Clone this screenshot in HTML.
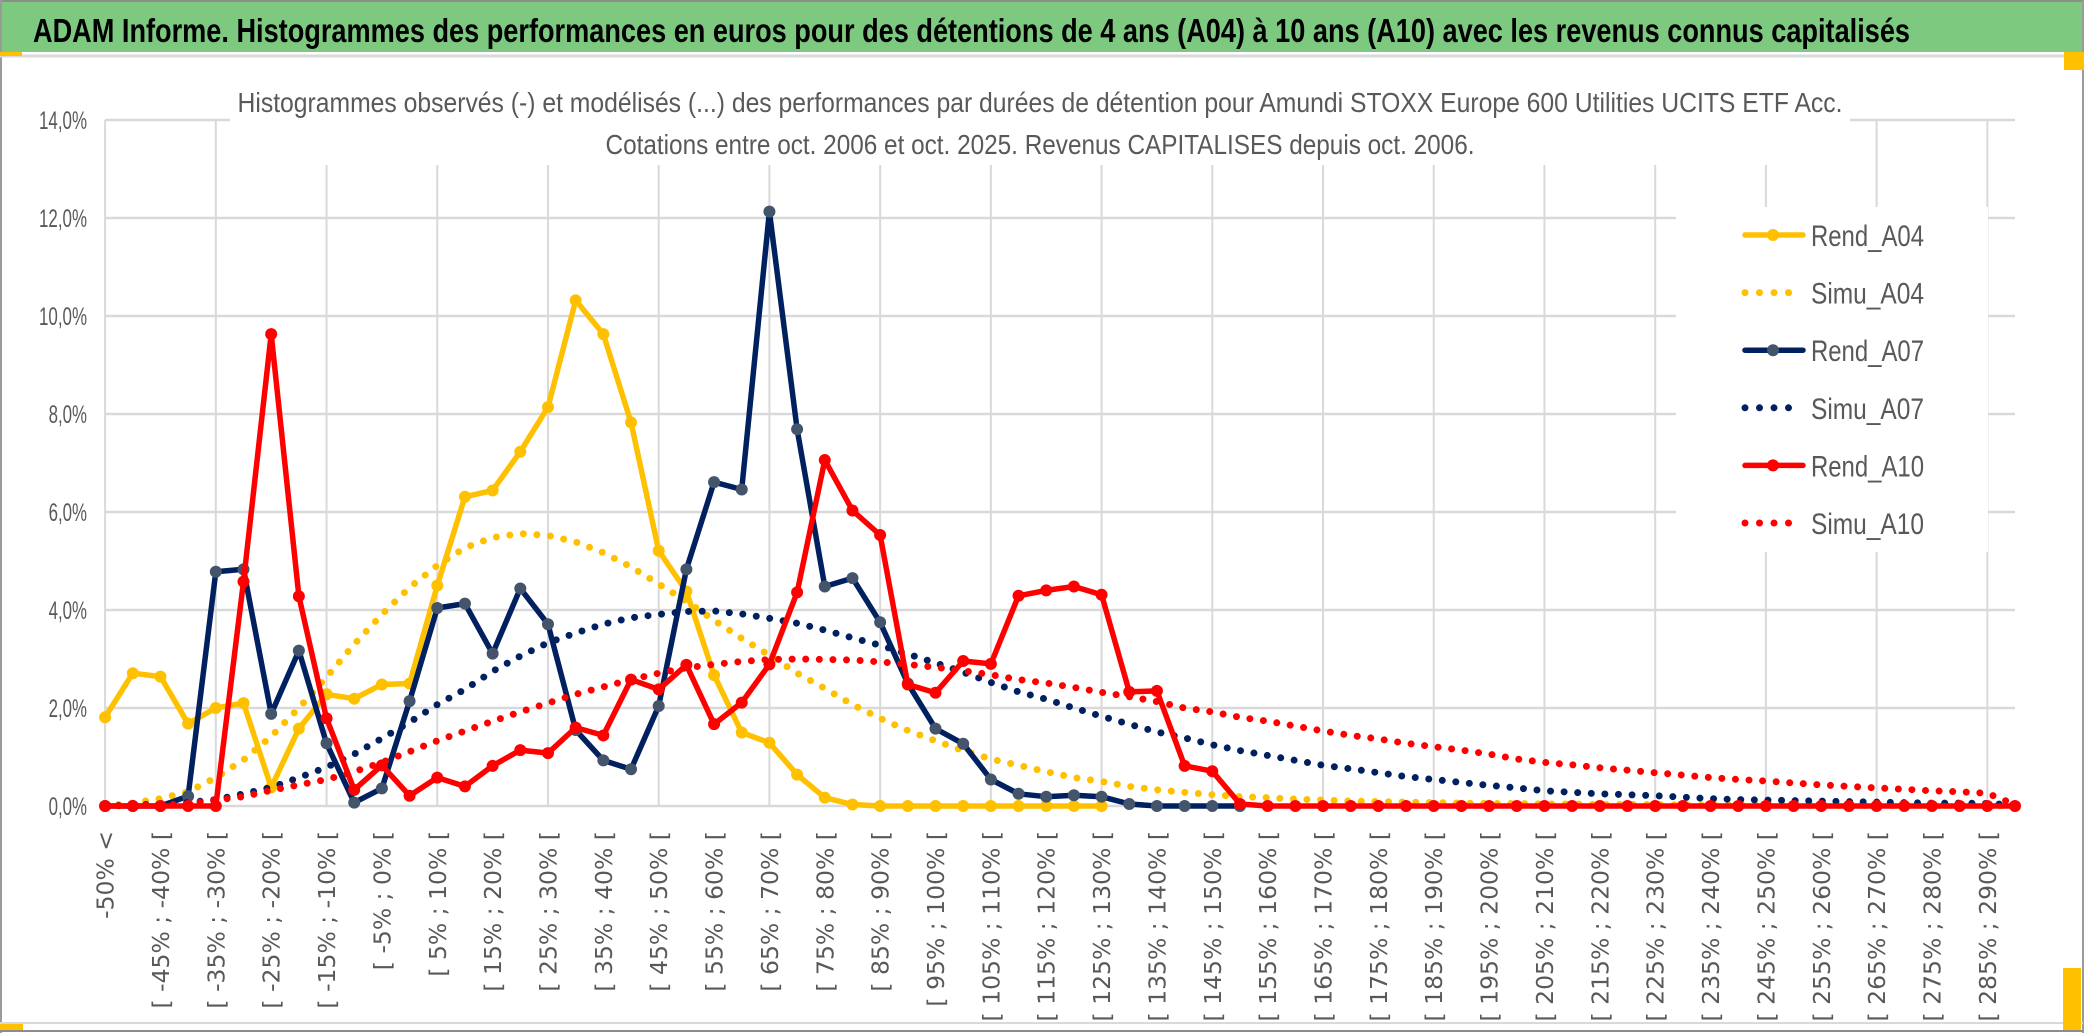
<!DOCTYPE html>
<html><head><meta charset="utf-8"><style>
html,body{margin:0;padding:0;background:#fff;}
svg{display:block;}
</style></head><body>
<svg id="chart" width="2086" height="1033" viewBox="0 0 2086 1033" xmlns="http://www.w3.org/2000/svg">
<rect x="0" y="0" width="2086" height="1033" fill="#fff"/>
<rect x="0" y="2" width="2083" height="50" fill="#7dc97f"/>
<line x1="0" y1="1" x2="2083" y2="1" stroke="#8c8c8c" stroke-width="2"/>
<line x1="1" y1="0" x2="1" y2="1033" stroke="#9a9a9a" stroke-width="2"/>
<line x1="2083" y1="0" x2="2083" y2="1033" stroke="#9a9a9a" stroke-width="2"/>
<line x1="0" y1="56" x2="2083" y2="56" stroke="#d9d9d9" stroke-width="3"/>
<line x1="0" y1="1023" x2="2083" y2="1023" stroke="#d9d9d9" stroke-width="2"/>
<line x1="0" y1="1031" x2="2083" y2="1031" stroke="#8c8c8c" stroke-width="2"/>
<rect x="0" y="52" width="22" height="4" fill="#ffc000"/>
<rect x="2064" y="52" width="20" height="18" fill="#ffc000"/>
<rect x="2063" y="968" width="18" height="62" fill="#ffc000"/>
<rect x="0" y="1024" width="23" height="6" fill="#ffc000"/>
<text x="33" y="42" font-family="'Liberation Sans Narrow','Liberation Sans',sans-serif" font-weight="bold" font-size="33" fill="#000" textLength="1877" lengthAdjust="spacingAndGlyphs">ADAM Informe. Histogrammes des performances en euros pour des détentions de 4 ans (A04) à 10 ans (A10) avec les revenus connus capitalisés</text>
<g id="grid"></g>
<rect x="230" y="110" width="1620" height="55" fill="#fff"/>
<rect x="1676" y="207" width="312" height="345" fill="#fff"/>
<text x="1040" y="112" text-anchor="middle" font-family="'Liberation Sans Narrow','Liberation Sans',sans-serif" font-size="28" fill="#595959" textLength="1605" lengthAdjust="spacingAndGlyphs">Histogrammes observés (-) et modélisés (...) des performances par durées de détention pour Amundi STOXX Europe 600 Utilities UCITS ETF Acc.</text>
<text x="1040" y="154" text-anchor="middle" font-family="'Liberation Sans Narrow','Liberation Sans',sans-serif" font-size="28" fill="#595959" textLength="869" lengthAdjust="spacingAndGlyphs">Cotations entre oct. 2006 et oct. 2025. Revenus CAPITALISES depuis oct. 2006.</text>
<g id="axes"></g>
<g id="series"></g>
<g id="legend"></g>
</svg>
<script>
const categories = ["-50% <","[ -50% ; -45% [","[ -45% ; -40% [","[ -40% ; -35% [","[ -35% ; -30% [","[ -30% ; -25% [","[ -25% ; -20% [","[ -20% ; -15% [","[ -15% ; -10% [","[ -10% ; -5% [",
"[ -5% ; 0% [","[ 0% ; 5% [","[ 5% ; 10% [","[ 10% ; 15% [","[ 15% ; 20% [","[ 20% ; 25% [","[ 25% ; 30% [","[ 30% ; 35% [","[ 35% ; 40% [","[ 40% ; 45% [",
"[ 45% ; 50% [","[ 50% ; 55% [","[ 55% ; 60% [","[ 60% ; 65% [","[ 65% ; 70% [","[ 70% ; 75% [","[ 75% ; 80% [","[ 80% ; 85% [","[ 85% ; 90% [","[ 90% ; 95% [",
"[ 95% ; 100% [","[ 100% ; 105% [","[ 105% ; 110% [","[ 110% ; 115% [","[ 115% ; 120% [","[ 120% ; 125% [","[ 125% ; 130% [","[ 130% ; 135% [","[ 135% ; 140% [","[ 140% ; 145% [",
"[ 145% ; 150% [","[ 150% ; 155% [","[ 155% ; 160% [","[ 160% ; 165% [","[ 165% ; 170% [","[ 170% ; 175% [","[ 175% ; 180% [","[ 180% ; 185% [","[ 185% ; 190% [","[ 190% ; 195% [",
"[ 195% ; 200% [","[ 200% ; 205% [","[ 205% ; 210% [","[ 210% ; 215% [","[ 215% ; 220% [","[ 220% ; 225% [","[ 225% ; 230% [","[ 230% ; 235% [","[ 235% ; 240% [","[ 240% ; 245% [",
"[ 245% ; 250% [","[ 250% ; 255% [","[ 255% ; 260% [","[ 260% ; 265% [","[ 265% ; 270% [","[ 270% ; 275% [","[ 275% ; 280% [","[ 280% ; 285% [","[ 285% ; 290% [","[ 290% ; 295% ["];
const yTicks = [0,2,4,6,8,10,12,14];
const yTickLabels = ["0,0%","2,0%","4,0%","6,0%","8,0%","10,0%","12,0%","14,0%"];
const rendA04 = [1.81,2.71,2.64,1.68,2.0,2.1,0.38,1.58,2.28,2.19, 2.48,2.5,4.5,6.31,6.44,7.23,8.14,10.32,9.63,7.83, 5.21,4.38,2.67,1.5,1.29,0.64,0.17,0.03,0,0, 0,0,0,0,0,0,0];
const simuA04 = [0,0.06,0.15,0.29,0.58,0.94,1.42,2.0,2.63,3.3, 3.91,4.46,4.91,5.27,5.48,5.56,5.52,5.39,5.17,4.88, 4.53,4.18,3.79,3.42,3.08,2.71,2.4,2.07,1.79,1.54, 1.33,1.13,0.96,0.83,0.7,0.58,0.5,0.4,0.33,0.28, 0.23,0.19,0.17,0.14,0.12,0.1,0.09,0.08,0.07,0.06, 0.05,0.05,0.04,0.04,0.03,0.03,0.03,0.02,0.02,0.02, 0.02,0.01,0.01,0.01,0.01,0.01,0.01,0.01,0.01,0];
const rendA07 = [0,0,0,0.2,4.78,4.83,1.88,3.17,1.28,0.07, 0.36,2.14,4.04,4.13,3.11,4.44,3.71,1.55,0.93,0.75, 2.04,4.83,6.61,6.46,12.13,7.69,4.48,4.65,3.75,2.5, 1.58,1.27,0.54,0.25,0.19,0.22,0.19,0.04,0,0, 0,0];
const simuA07 = [0,0.02,0.04,0.07,0.13,0.25,0.38,0.58,0.79,1.06, 1.38,1.71,2.07,2.38,2.75,3.06,3.33,3.53,3.71,3.84, 3.91,3.97,3.98,3.92,3.83,3.73,3.59,3.43,3.28,3.1, 2.92,2.73,2.52,2.33,2.18,2.0,1.83,1.67,1.51,1.39, 1.25,1.13,1.03,0.93,0.83,0.76,0.68,0.6,0.54,0.48, 0.42,0.37,0.31,0.28,0.25,0.23,0.21,0.18,0.15,0.13, 0.12,0.11,0.1,0.09,0.08,0.07,0.06,0.06,0.05,0.02];
const rendA10 = [0,0,0,0,0,4.58,9.63,4.28,1.79,0.33, 0.83,0.21,0.58,0.4,0.82,1.14,1.08,1.6,1.44,2.58, 2.38,2.88,1.67,2.11,2.89,4.36,7.06,6.03,5.53,2.48, 2.31,2.96,2.9,4.29,4.4,4.48,4.31,2.33,2.35,0.82, 0.71,0.04,0,0,0,0,0,0,0,0, 0,0,0,0,0,0,0,0,0,0, 0,0,0,0,0,0,0,0,0,0];
const simuA10 = [0,0.01,0.02,0.04,0.12,0.19,0.32,0.43,0.54,0.7, 0.89,1.11,1.33,1.53,1.73,1.92,2.1,2.28,2.43,2.58, 2.71,2.82,2.89,2.95,2.99,3.0,2.99,2.98,2.94,2.89, 2.83,2.76,2.68,2.58,2.51,2.42,2.32,2.23,2.13,2.0, 1.92,1.81,1.73,1.63,1.53,1.44,1.37,1.28,1.21,1.14, 1.06,0.96,0.89,0.84,0.78,0.73,0.68,0.63,0.58,0.54, 0.51,0.47,0.43,0.4,0.37,0.34,0.31,0.29,0.26,0.03];

const NS = "http://www.w3.org/2000/svg";
const X0 = 105.1, DX = 27.68, Y0 = 806, PPU = 49;
function xScale(i){ return X0 + DX * i; }
function yScale(v){ return Y0 - PPU * v; }
function mk(tag, attrs, parent){ const e = document.createElementNS(NS, tag); for (const k in attrs) e.setAttribute(k, attrs[k]); parent.appendChild(e); return e; }

const grid = document.getElementById('grid');
const plotRight = xScale(categories.length - 1);
yTicks.forEach(function(t){
  const l = mk('line', {x1: X0, x2: plotRight, y1: yScale(t), y2: yScale(t), stroke: '#d9d9d9', 'stroke-width': 2.5}, grid);
  
  
});
for (let i = 0; i < categories.length; i += 4) {
  const l = mk('line', {x1: xScale(i), x2: xScale(i), y1: yScale(14), y2: yScale(0), stroke: '#d9d9d9', 'stroke-width': 2}, grid);
  
  
}

const axes = document.getElementById('axes');
yTicks.forEach(function(t, k){
  const tx = mk('text', {x: 87, y: yScale(t) + 9, 'text-anchor': 'end', 'font-family': "'Liberation Sans Narrow','Liberation Sans',sans-serif", 'font-size': 25, fill: '#595959', textLength: yTickLabels[k].length * 9.6, lengthAdjust: 'spacingAndGlyphs'}, axes);
  
  
  tx.textContent = yTickLabels[k];
});
categories.forEach(function(c, i){
  if (i % 2 !== 0) return;
  const x = xScale(i) + 8.5, y = 831;
  const tx = mk('text', {x: x, y: y, transform: 'rotate(-90 ' + x + ' ' + y + ')', 'text-anchor': 'end', 'font-family': "'DejaVu Sans',sans-serif", 'font-size': 23.5, fill: '#595959'}, axes);
  
  
  tx.textContent = c;
});

const series = document.getElementById('series');
function pts(arr){ const p = []; arr.forEach(function(v, i){ if (v !== null && v !== undefined) p.push(xScale(i).toFixed(1) + ',' + yScale(v).toFixed(1)); }); return p.join(' '); }
function drawRend(arr, color, mcolor, name){
  const g = mk('g', {}, series);
  
  
  mk('polyline', {points: pts(arr), fill: 'none', stroke: color, 'stroke-width': 5.5, 'stroke-linejoin': 'round'}, g);
  arr.forEach(function(v, i){
    const c = mk('circle', {cx: xScale(i), cy: yScale(v), r: 6, fill: mcolor}, g);
    
    
  });
}
function drawSimu(arr, color, name){
  const p = mk('polyline', {points: pts(arr), fill: 'none', stroke: color, 'stroke-width': 7, 'stroke-linecap': 'round', 'stroke-dasharray': '0 13.6'}, series);
  
  
}
drawRend(rendA04, '#ffc000', '#ffc000', 'rend-a04-line');
drawSimu(simuA04, '#ffc000', 'simu-a04-line');
drawRend(rendA07, '#002060', '#44546a', 'rend-a07-line');
drawSimu(simuA07, '#002060', 'simu-a07-line');
drawRend(rendA10, '#ff0000', '#ff0000', 'rend-a10-line');
drawSimu(simuA10, '#ff0000', 'simu-a10-line');

const legend = document.getElementById('legend');
const legendNames = ["Rend_A04","Simu_A04","Rend_A07","Simu_A07","Rend_A10","Simu_A10"];
const legendColors = ['#ffc000','#ffc000','#002060','#002060','#ff0000','#ff0000'];
const legendMarkers = ['#ffc000',null,'#44546a',null,'#ff0000',null];
legendNames.forEach(function(n, k){
  const y = 235 + k * 57.6;
  const g = mk('g', {}, legend);
  
  
  if (legendMarkers[k]) {
    mk('line', {x1: 1745, x2: 1803, y1: y, y2: y, stroke: legendColors[k], 'stroke-width': 5.5, 'stroke-linecap': 'round'}, g);
    mk('circle', {cx: 1773, cy: y, r: 6, fill: legendMarkers[k]}, g);
  } else {
    mk('line', {x1: 1745, x2: 1800, y1: y, y2: y, stroke: legendColors[k], 'stroke-width': 7, 'stroke-linecap': 'round', 'stroke-dasharray': '0 14.5'}, g);
  }
  const t = mk('text', {x: 1811, y: y + 11, 'font-family': "'Liberation Sans Narrow','Liberation Sans',sans-serif", 'font-size': 30, fill: '#595959', textLength: 113, lengthAdjust: 'spacingAndGlyphs'}, g);
  t.textContent = n;
});
</script>
</body></html>
